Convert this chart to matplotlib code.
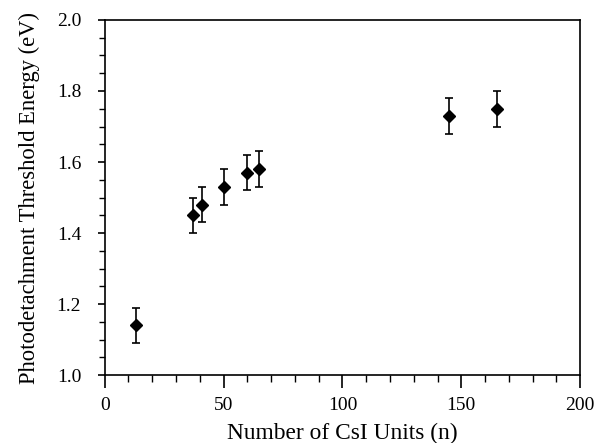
import matplotlib
matplotlib.use('Agg')
from matplotlib import pyplot as plt
from matplotlib.ticker import MultipleLocator

n_units = [13, 37, 41, 50, 60, 65, 145, 165]
energy = [1.14, 1.45, 1.48, 1.53, 1.57, 1.58, 1.73, 1.75]
err = [0.05, 0.05, 0.05, 0.05, 0.05, 0.05, 0.05, 0.05]

plt.rcParams['font.family'] = ['Liberation Serif', 'DejaVu Serif']

fig = plt.figure(figsize=(5.95, 4.43), dpi=100)
ax = fig.add_axes([0.176, 0.153, 0.799, 0.802])

ax.errorbar(n_units, energy, yerr=err, fmt='D', color='black', markersize=6,
            capsize=3, elinewidth=1.2, capthick=1.2)

ax.set_xlim(0, 200)
ax.set_ylim(1.0, 2.0)
ax.xaxis.set_major_locator(MultipleLocator(50))
ax.xaxis.set_minor_locator(MultipleLocator(10))
ax.yaxis.set_major_locator(MultipleLocator(0.2))
ax.yaxis.set_minor_locator(MultipleLocator(0.05))
ax.yaxis.set_major_formatter(plt.FormatStrFormatter('%.1f'))

ax.tick_params(axis='x', which='major', direction='out', length=9, width=1.2, labelsize=14, pad=7)
ax.tick_params(axis='x', which='minor', direction='out', length=5, width=1)
ax.tick_params(axis='y', which='major', direction='out', length=5, width=1.2, labelsize=14, pad=12)
ax.tick_params(axis='y', which='minor', direction='out', length=4, width=1)
for s in ax.spines.values():
    s.set_linewidth(1.2)

ax.set_xlabel('Number of CsI Units (n)', fontsize=16.8, labelpad=6)
ax.set_ylabel('Photodetachment Threshold Energy (eV)', fontsize=16.3, labelpad=12)

fig.savefig('out.png', dpi=100)
